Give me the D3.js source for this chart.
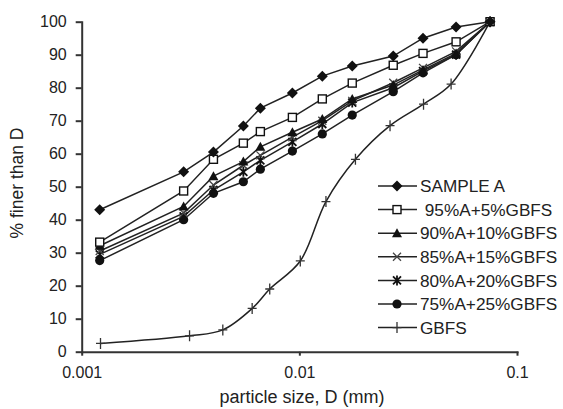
<!DOCTYPE html>
<html>
<head>
<meta charset="utf-8">
<script src="https://cdn.jsdelivr.net/npm/d3@7"></script>
<style>
  body { margin: 0; background: #fff; }
  svg { display: block; font-family: "Liberation Sans", Arial, sans-serif; }
  .axis path, .axis line { stroke: #333; stroke-width: 2px; }
  .axis text { fill: #222; font-size: 16px; }
</style>
</head>
<body>
<svg id="gradationSvg" width="563" height="409"></svg>
<script>
// sieve / hydrometer sizes (mm)
var sizeMm = [0.00121, 0.00294, 0.00403, 0.00553, 0.00662, 0.00929, 0.01275, 0.0175, 0.027, 0.037, 0.0525, 0.0752];
var gbfsSizeMm = [0.00122, 0.00313, 0.00445, 0.00607, 0.00731, 0.0101, 0.01325, 0.0181, 0.0261, 0.0372, 0.0498, 0.0752];

// % finer than D
var sampleA = [43, 54.5, 60.5, 68.4, 73.8, 78.4, 83.5, 86.6, 89.6, 95, 98.4, 100];
var mix95 = [33.2, 48.7, 58.3, 63.2, 66.7, 71, 76.6, 81.4, 86.8, 90.4, 93.9, 100];
var mix90 = [32.1, 44, 53.2, 57.6, 62.1, 66.5, 70.5, 76.6, 80.8, 85.4, 90.4, 100];
var mix85 = [30.5, 42, 50.5, 56.5, 59.5, 65, 70, 76, 81.5, 86, 91, 100];
var mix80 = [29.5, 41, 49, 54.5, 58, 63.6, 69, 75.5, 80, 85, 90, 100];
var mix75 = [27.6, 40, 48, 51.5, 55.3, 60.8, 66, 71.7, 78.8, 84.5, 90, 100];
var gbfs = [2.5, 4.8, 6.6, 13.1, 19, 27.5, 45.5, 58.3, 68.5, 75, 81.1, 100];

var seriesNames = ["SAMPLE A", " 95%A+5%GBFS", "90%A+10%GBFS", "85%A+15%GBFS", "80%A+20%GBFS", "75%A+25%GBFS", "GBFS"];
var seriesMarkers = ["diamond", "square", "triangle", "times", "asterisk", "circle", "plus"];

var yTicks = [0, 10, 20, 30, 40, 50, 60, 70, 80, 90, 100];
var xTicks = [0.001, 0.01, 0.1];
var xTickLabels = ["0.001", "0.01", "0.1"];

var svg = d3.select("#gradationSvg");

var x = d3.scaleLog().domain([0.001, 0.1]).range([81.7, 517]);
var y = d3.scaleLinear().domain([0, 100]).range([351.7, 21.7]);

var allSeries = [sampleA, mix95, mix90, mix85, mix80, mix75, gbfs].map(function (vals, i) {
  var xs = i == 6 ? gbfsSizeMm : sizeMm;
  return {
    name: seriesNames[i],
    marker: seriesMarkers[i],
    points: vals.map(function (v, j) { return [xs[j], v]; })
  };
});

// axes
var yAxis = d3.axisLeft(y).tickValues(yTicks).tickSize(6).tickPadding(9).tickSizeOuter(0);
svg.append("g").attr("class", "axis")
  .attr("transform", "translate(" + x(0.001) + ",0)")
  .call(yAxis);

var xAxis = d3.axisBottom(x).tickValues(xTicks)
  .tickFormat(function (d, i) { return xTickLabels[i]; })
  .tickSize(4).tickPadding(11).tickSizeOuter(0);
svg.append("g").attr("class", "axis")
  .attr("transform", "translate(0," + y(0) + ")")
  .call(xAxis);

svg.selectAll(".axis .domain").attr("stroke-linecap", "square");

// axis titles
svg.append("text")
  .attr("x", 302).attr("y", 403)
  .attr("text-anchor", "middle")
  .attr("fill", "#222").attr("font-size", 18)
  .text("particle size, D (mm)");

svg.append("text")
  .attr("transform", "translate(23,183) rotate(-90)")
  .attr("text-anchor", "middle")
  .attr("fill", "#222").attr("font-size", 17.5)
  .text("% finer than D");

// marker drawing
function drawMarker(g, type) {
  if (type == "diamond") {
    g.append("path").attr("d", "M0,-5.5L5.5,0L0,5.5L-5.5,0Z").attr("fill", "#111");
  } else if (type == "square") {
    g.append("rect").attr("x", -4).attr("y", -4).attr("width", 8).attr("height", 8)
      .attr("fill", "#fff").attr("stroke", "#111").attr("stroke-width", 1.4);
  } else if (type == "triangle") {
    g.append("path").attr("d", "M0,-5L5,4L-5,4Z").attr("fill", "#111");
  } else if (type == "circle") {
    g.append("circle").attr("r", 4.6).attr("fill", "#111");
  } else if (type == "times") {
    g.append("path").attr("d", "M-4,-4L4,4M-4,4L4,-4")
      .attr("stroke", "#444").attr("stroke-width", 1.3);
  } else if (type == "asterisk") {
    g.append("path").attr("d", "M-4,-4L4,4M-4,4L4,-4M0,-5L0,5")
      .attr("stroke", "#111").attr("stroke-width", 1.8);
  } else if (type == "plus") {
    g.append("path").attr("d", "M0,-5.5L0,5.5M-4.5,0L4.5,0")
      .attr("stroke", "#333").attr("stroke-width", 1.3);
  }
}

var line = d3.line()
  .x(function (d) { return x(d[0]); })
  .y(function (d) { return y(d[1]); });

var plotG = svg.append("g").attr("class", "series-g");

allSeries.slice().reverse().forEach(function (s) {
  // GBFS is drawn as a smoothed line in the original
  var lineGen = s.marker == "plus" ? line.curve(d3.curveCatmullRom.alpha(0.5)) : line.curve(d3.curveLinear);
  plotG.append("path")
    .attr("d", lineGen(s.points))
    .attr("fill", "none")
    .attr("stroke", "#222")
    .attr("stroke-width", 1.5);

  plotG.selectAll(null)
    .data(s.points).enter()
    .append("g")
    .attr("transform", function (d) { return "translate(" + x(d[0]) + "," + y(d[1]) + ")"; })
    .each(function () { drawMarker(d3.select(this), s.marker); });
});

// legend
var legendG = svg.append("g").attr("class", "legend-g");
allSeries.forEach(function (s, i) {
  var row = legendG.append("g").attr("transform", "translate(0," + (186 + i * 23.6) + ")");
  row.append("line").attr("x1", 378).attr("x2", 417).attr("y1", 0).attr("y2", 0)
    .attr("stroke", "#222").attr("stroke-width", 1.5);
  drawMarker(row.append("g").attr("transform", "translate(397,0)"), s.marker);
  row.append("text")
    .attr("x", 420).attr("y", 0).attr("dy", "0.36em")
    .attr("fill", "#222").attr("font-size", 17.2)
    .style("white-space", "pre")
    .text(s.name);
});
</script>
</body>
</html>
